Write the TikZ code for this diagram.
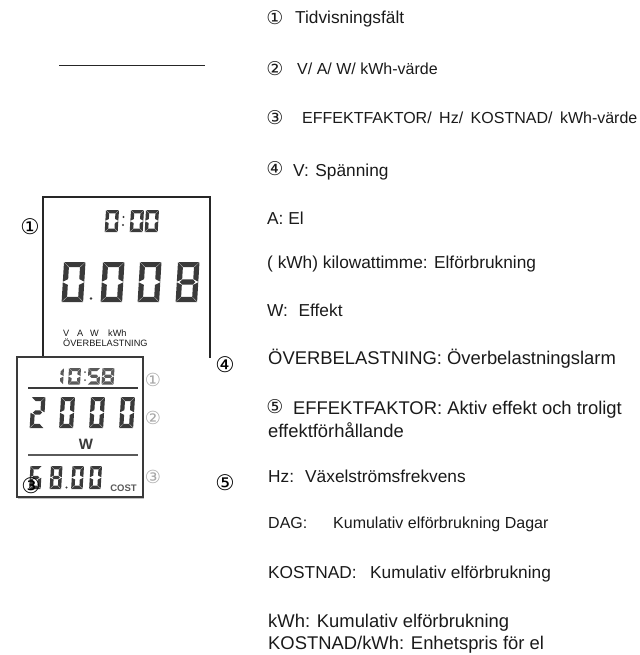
\documentclass[tikz,border=0pt]{standalone}
\usepackage{fontspec}
\setmainfont{Liberation Sans}
\newfontfamily\circfont{DejaVu Sans}
\definecolor{lcdink}{HTML}{3A3A3A}
\definecolor{lcdgrey}{HTML}{5A5A5A}
\definecolor{markgrey}{HTML}{A8A8A8}
\definecolor{textink}{HTML}{1A1A1A}
\tikzset{
  item/.style={anchor=base west,inner sep=0pt,text=textink,font=\fontsize{17.3}{19}\selectfont},
  itemsmall/.style={item,font=\fontsize{16}{18}\selectfont},
  itembig/.style={item,font=\fontsize{18.4}{20}\selectfont},
  circbig/.style={inner sep=0pt,text=black,font=\circfont\fontsize{21.5}{22}\selectfont},
  circlist/.style={inner sep=0pt,text=textink,font=\circfont\fontsize{19}{20}\selectfont},
  circgrey/.style={inner sep=0pt,text=markgrey,font=\circfont\fontsize{18}{19}\selectfont},
  lcdlabel/.style={anchor=base west,inner sep=0pt,text=textink,font=\fontsize{9.2}{9}\selectfont},
  framerule/.style={draw=black!85,line width=1.2pt,line cap=butt},
  lcdrule/.style={draw=lcdink,line width=1.4pt}
}
% seven-segment digit: x, y (top-left), width, height, thickness, colour, segments
\newcommand{\lcdseg}[7]{%
  \begin{scope}[shift={(#1,#2)},xslant=0.06,fill=#6]
    \pgfmathsetmacro{\W}{#3}\pgfmathsetmacro{\H}{#4}\pgfmathsetmacro{\T}{#5}
    \pgfmathsetmacro{\G}{0.3}\pgfmathsetmacro{\M}{\H/2}
    \edef\seglist{#7}%
    \foreach \s in \seglist {%
      \ifnum\s=1 \fill (\G,0)--(\W-\G,0)--(\W-\G-\T,\T)--(\G+\T,\T)--cycle;\fi
      \ifnum\s=2 \fill (\W,\G)--(\W,\M-\G)--(\W-\T,\M-\G-\T/2)--(\W-\T,\G+\T)--cycle;\fi
      \ifnum\s=3 \fill (\W,\M+\G)--(\W,\H-\G)--(\W-\T,\H-\G-\T)--(\W-\T,\M+\G+\T/2)--cycle;\fi
      \ifnum\s=4 \fill (\G,\H)--(\W-\G,\H)--(\W-\G-\T,\H-\T)--(\G+\T,\H-\T)--cycle;\fi
      \ifnum\s=5 \fill (0,\M+\G)--(0,\H-\G)--(\T,\H-\G-\T)--(\T,\M+\G+\T/2)--cycle;\fi
      \ifnum\s=6 \fill (0,\G)--(0,\M-\G)--(\T,\M-\G-\T/2)--(\T,\G+\T)--cycle;\fi
      \ifnum\s=7 \fill (\G+\T/2,\M)--(\G+\T,\M-\T/2)--(\W-\G-\T,\M-\T/2)--(\W-\G-\T/2,\M)--(\W-\G-\T,\M+\T/2)--(\G+\T,\M+\T/2)--cycle;\fi
    }
  \end{scope}}
\def\dzero{1,2,3,4,5,6}\def\done{2,3}\def\dtwo{1,2,7,5,4}\def\dfive{1,6,7,3,4}\def\dsix{1,6,7,5,3,4}\def\deight{1,2,3,4,5,6,7}
\begin{document}
\begin{tikzpicture}[x=1pt,y=-1pt]
\useasboundingbox (0,0) rectangle (639,655);
% short rule, top left
\coordinate (ruleL) at (59,65); \coordinate (ruleR) at (205,65);
\draw[draw=black!85,line width=0.9pt] (ruleL) -- (ruleR);
% upper frame
\coordinate (fa) at (43,358); \coordinate (fb) at (43,197);
\coordinate (fc) at (210,197); \coordinate (fd) at (210,358);
\draw[framerule] (fa) -- (fb) -- (fc) -- (fd);
% upper display
\foreach \x/\d in {106/\dzero,131/\dzero,146/\dzero}{\lcdseg{\x}{210}{13}{22}{3.4}{lcdink}{\d}}
\fill[lcdink] (123.5,217) circle (1.1) (123,225) circle (1.1);
\foreach \x/\d in {64/\dzero,103/\dzero,140/\dzero,178/\deight}{\lcdseg{\x}{262}{21.5}{40}{5.2}{lcdink}{\d}}
\fill[lcdink] (91,298.5) circle (1.4);
\node[lcdlabel] (lv) at (63,336) {V};
\node[lcdlabel] (la) at (77,336) {A};
\node[lcdlabel] (lw) at (90,336) {W};
\node[lcdlabel] (lk) at (108,336) {kWh};
\node[lcdlabel] (lo) at (63,346) {ÖVERBELASTNING};
% lower display
\draw[draw=lcdink,line width=1.4pt,fill=white] (17,357) rectangle (143,497);
\draw[draw=black!25,line width=1pt] (17.5,498.2) -- (143.5,498.2);
\foreach \x/\d in {52/\done,69/\dzero,88.5/\dfive,102.5/\deight}{\lcdseg{\x}{368}{12}{16.5}{3.2}{lcdgrey}{\d}}
\fill[lcdgrey] (85,372) circle (1) (85,380) circle (1);
\coordinate (r1a) at (28,388); \coordinate (r1b) at (138,388);
\draw[lcdrule] (r1a) -- (r1b);
\foreach \x/\d in {31.5/\dtwo,61/\dzero,91/\dzero,121/\dzero}{\lcdseg{\x}{397}{14}{31}{4.2}{lcdink}{\d}}
\node[inner sep=0pt,text=lcdink,font=\bfseries\fontsize{15}{15}\selectfont] (lcdW) at (86,444) {W};
\coordinate (r2a) at (28,455); \coordinate (r2b) at (138,455);
\draw[draw=lcdgrey,line width=2pt] (r2a) -- (r2b);
\foreach \x/\d in {30.5/\dsix,51/\deight,72.5/\dzero,90.5/\dzero}{\lcdseg{\x}{466}{11.5}{23}{3.4}{lcdink}{\d}}
\fill[lcdink] (66.5,487.5) circle (1.2);
\node[inner sep=0pt,text=lcdgrey,font=\bfseries\fontsize{9.5}{10}\selectfont] (cost) at (123.5,488) {COST};
\node[circgrey] (g1) at (153,380) {①};
\node[circgrey] (g2) at (153,418) {②};
\node[circgrey] (g3) at (153,477) {③};
% black markers
\node[circbig] (m1) at (30,227) {①};
\node[circbig] (m3) at (31,486) {③};
\node[circbig] (m4) at (225,365) {④};
\node[circbig] (m5) at (225,483) {⑤};
% legend
\node[circlist] (c1) at (275,18) {①};
\node[item] (t1) at (295,24) {Tidvisningsfält};
\node[circlist] (c2) at (275,69) {②};
\node[itemsmall] (t2) at (297,74.5) {V/ A/ W/ kWh-värde};
\node[circlist] (c3) at (275,118) {③};
\node[itemsmall] (t3) at (302,123.5) {EFFEKTFAKTOR/\hspace{7.5pt}Hz/\hspace{7.5pt}KOSTNAD/\hspace{7.5pt}kWh-värde};
\node[circlist] (c4) at (275,169) {④};
\node[item] (t4) at (293,176) {V:\hspace{6.5pt}Spänning};
\node[item] (t5) at (267,224) {A: El};
\node[item] (t6) at (267,268) {( kWh) kilowattimme: Elförbrukning};
\node[item] (t7) at (267,316) {W:\hspace{10.6pt}Effekt};
\node[itembig] (t8) at (268,364) {ÖVERBELASTNING: Överbelastningslarm};
\node[circlist] (c5) at (275,407) {⑤};
\node[itembig] (t9) at (293,414) {EFFEKTFAKTOR: Aktiv effekt och troligt};
\node[itembig] (t10) at (268,437) {effektförhållande};
\node[item] (t11) at (268,482) {Hz:};
\node[item] (t12) at (305,482) {Växelströmsfrekvens};
\node[itemsmall] (t13) at (268,528.5) {DAG:};
\node[itemsmall] (t14) at (333,528.5) {Kumulativ elförbrukning Dagar};
\node[item] (t15) at (268,578) {KOSTNAD:};
\node[item] (t16) at (370,578) {Kumulativ elförbrukning};
\node[itembig] (t17) at (268,627) {kWh: Kumulativ elförbrukning};
\node[itembig] (t18) at (268,649) {KOSTNAD/kWh: Enhetspris för el};
\end{tikzpicture}
\end{document}
